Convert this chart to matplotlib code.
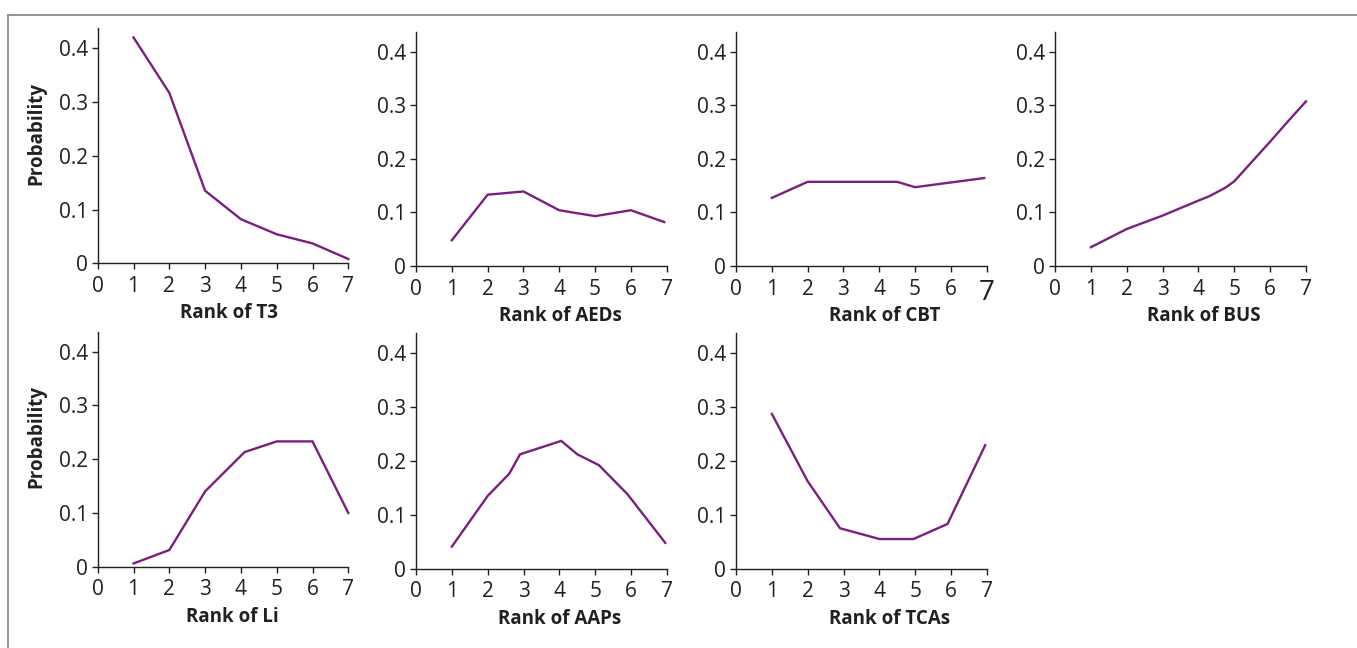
import matplotlib
matplotlib.use("Agg")
import matplotlib.pyplot as plt
from matplotlib.lines import Line2D

plt.rcParams['font.family'] = ['Open Sans', 'DejaVu Sans']

# ---- data ----
labels = ["Rank of T3", "Rank of AEDs", "Rank of CBT", "Rank of BUS",
          "Rank of Li", "Rank of AAPs", "Rank of TCAs"]

t3_x = [1, 2, 3, 4, 5, 6, 7]
t3_y = [0.420, 0.317, 0.135, 0.082, 0.054, 0.037, 0.008]

aeds_x = [1, 2, 3, 4, 5, 6, 6.93]
aeds_y = [0.048, 0.133, 0.139, 0.104, 0.093, 0.104, 0.082]

cbt_x = [1, 2, 4.5, 5, 6.93]
cbt_y = [0.127, 0.157, 0.157, 0.147, 0.164]

bus_x = [1, 2, 3, 4, 4.3, 4.75, 5, 6, 6.5, 7]
bus_y = [0.035, 0.069, 0.094, 0.122, 0.130, 0.146, 0.158, 0.232, 0.270, 0.307]

li_x = [1, 2, 3, 3.3, 4.1, 5, 6, 7]
li_y = [0.006, 0.031, 0.140, 0.160, 0.213, 0.233, 0.233, 0.100]

aaps_x = [1, 2, 2.6, 2.9, 4.05, 4.5, 5.1, 5.9, 6.95]
aaps_y = [0.041, 0.135, 0.176, 0.212, 0.237, 0.212, 0.192, 0.138, 0.048]

tcas_x = [1, 2, 2.9, 4, 4.95, 5.9, 6.95]
tcas_y = [0.287, 0.162, 0.075, 0.055, 0.055, 0.083, 0.229]

series = [(t3_x, t3_y), (aeds_x, aeds_y), (cbt_x, cbt_y), (bus_x, bus_y),
          (li_x, li_y), (aaps_x, aaps_y), (tcas_x, tcas_y)]

xticks = [0, 1, 2, 3, 4, 5, 6, 7]
yticks = [0, 0.1, 0.2, 0.3, 0.4]
ytick_labels = ["0", "0.1", "0.2", "0.3", "0.4"]

W, H = 1357, 648
fig = plt.figure(figsize=(W / 100, H / 100), dpi=100)

# pixel boxes: (left, right, bottom_y, top_y)
boxes = [
    (97.7, 348.3, 263.3, 28.3),
    (416, 666.7, 266, 31.7),
    (736, 986.7, 266, 31.7),
    (1055, 1306, 266, 31.7),
    (97.7, 348.3, 566.7, 331.7),
    (416, 667, 568.7, 333),
    (736, 987, 568.7, 333),
]
# x-label centre positions (pixels)
label_cx = [229.5, 560, 885, 1204, 232, 560, 890]

line_color = '#7b1f7f'
text_color = '#231f20'

for i, ((l, r, b, t), (xs, ys), lab) in enumerate(zip(boxes, series, labels)):
    hgt = b - t
    wid = r - l
    ax = fig.add_axes([l / W, 1 - b / H, wid / W, hgt / H])
    ax.plot(xs, ys, color=line_color, lw=1.7, solid_joinstyle='miter', clip_on=False)
    ax.set_xlim(0, 7)
    ax.set_ylim(0, 0.437)
    ax.spines['top'].set_visible(False)
    ax.spines['right'].set_visible(False)
    for s in ('left', 'bottom'):
        ax.spines[s].set_color(text_color)
        ax.spines[s].set_linewidth(1.0)
    ax.set_xticks(xticks)
    ax.set_xticklabels([str(v) for v in xticks])
    ax.set_yticks(yticks)
    ax.set_yticklabels(ytick_labels)
    ax.tick_params(direction='out', length=4, width=1.0, colors=text_color,
                   labelsize=15, pad=3)
    ax.tick_params(axis='x', pad=5)
    ax.set_xlabel(lab, fontsize=13.5, fontweight='bold', color=text_color)
    ax.xaxis.label.set_va('center')
    ax.xaxis.set_label_coords((label_cx[i] - l) / wid, -50 / hgt)
    if i in (0, 4):
        ax.set_ylabel("Probability", fontsize=13.5, fontweight='bold',
                      color=text_color)
        ax.yaxis.label.set_va('center')
        ax.yaxis.set_label_coords((36 - l) / wid, 0.552)
    if i == 2:
        ax.get_xticklabels()[-1].set_fontsize(20)

# frame border
fig.add_artist(Line2D([8 / W, 1], [1 - 15 / H, 1 - 15 / H], color='#8c8c8c', lw=1.3))
fig.add_artist(Line2D([8 / W, 8 / W], [1 - 15 / H, 0], color='#8c8c8c', lw=1.3))

fig.savefig("out.png", dpi=100)
